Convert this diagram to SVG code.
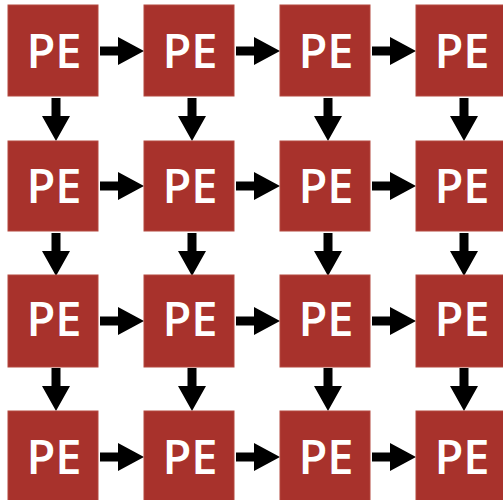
<svg xmlns="http://www.w3.org/2000/svg" xmlns:xlink="http://www.w3.org/1999/xlink" width="503" height="500" viewBox="0 0 503 500">
<style>
.pe rect{fill:#A8322C;stroke:#B4493F;stroke-width:1}
.pe text{fill:#FFFFFF;font-family:"Open Sans","Noto Sans","Liberation Sans",sans-serif;font-size:47px;font-weight:600;text-anchor:middle}
.arr{fill:#000000}
</style>
<defs>
<path id="ah" d="M0,-4.5 H18 V-14 L44,0 L18,14 V4.5 H0 Z"/>
<path id="av" d="M-4.5,0 V18 H-14 L0,43 L14,18 H4.5 V0 Z"/>
</defs>
<rect width="503" height="500" fill="#ffffff"/>
<g id="connectors" class="arr">
<use xlink:href="#ah" x="100" y="51"/><use xlink:href="#ah" x="236" y="51"/><use xlink:href="#ah" x="372" y="51"/>
<use xlink:href="#ah" x="100" y="186"/><use xlink:href="#ah" x="236" y="186"/><use xlink:href="#ah" x="372" y="186"/>
<use xlink:href="#ah" x="100" y="321"/><use xlink:href="#ah" x="236" y="321"/><use xlink:href="#ah" x="372" y="321"/>
<use xlink:href="#ah" x="100" y="457"/><use xlink:href="#ah" x="236" y="457"/><use xlink:href="#ah" x="372" y="457"/>
<use xlink:href="#av" x="56" y="98"/><use xlink:href="#av" x="192" y="98"/><use xlink:href="#av" x="328" y="98"/><use xlink:href="#av" x="464" y="98"/>
<use xlink:href="#av" x="56" y="233"/><use xlink:href="#av" x="192" y="233"/><use xlink:href="#av" x="328" y="233"/><use xlink:href="#av" x="464" y="233"/>
<use xlink:href="#av" x="56" y="368"/><use xlink:href="#av" x="192" y="368"/><use xlink:href="#av" x="328" y="368"/><use xlink:href="#av" x="464" y="368"/>
</g>
<g id="pe00" class="pe"><rect x="8" y="5" width="90" height="91"/><text x="54" y="68">PE</text></g>
<g id="pe01" class="pe"><rect x="144" y="5" width="90" height="91"/><text x="190" y="68">PE</text></g>
<g id="pe02" class="pe"><rect x="280" y="5" width="90" height="91"/><text x="326" y="68">PE</text></g>
<g id="pe03" class="pe"><rect x="416" y="5" width="90" height="91"/><text x="462" y="68">PE</text></g>
<g id="pe10" class="pe"><rect x="8" y="141" width="90" height="90"/><text x="54" y="203">PE</text></g>
<g id="pe11" class="pe"><rect x="144" y="141" width="90" height="90"/><text x="190" y="203">PE</text></g>
<g id="pe12" class="pe"><rect x="280" y="141" width="90" height="90"/><text x="326" y="203">PE</text></g>
<g id="pe13" class="pe"><rect x="416" y="141" width="90" height="90"/><text x="462" y="203">PE</text></g>
<g id="pe20" class="pe"><rect x="8" y="275" width="90" height="92"/><text x="54" y="336">PE</text></g>
<g id="pe21" class="pe"><rect x="144" y="275" width="90" height="92"/><text x="190" y="336">PE</text></g>
<g id="pe22" class="pe"><rect x="280" y="275" width="90" height="92"/><text x="326" y="336">PE</text></g>
<g id="pe23" class="pe"><rect x="416" y="275" width="90" height="92"/><text x="462" y="336">PE</text></g>
<g id="pe30" class="pe"><rect x="8" y="411" width="90" height="92"/><text x="54" y="474">PE</text></g>
<g id="pe31" class="pe"><rect x="144" y="411" width="90" height="92"/><text x="190" y="474">PE</text></g>
<g id="pe32" class="pe"><rect x="280" y="411" width="90" height="92"/><text x="326" y="474">PE</text></g>
<g id="pe33" class="pe"><rect x="416" y="411" width="90" height="92"/><text x="462" y="474">PE</text></g>
</svg>
